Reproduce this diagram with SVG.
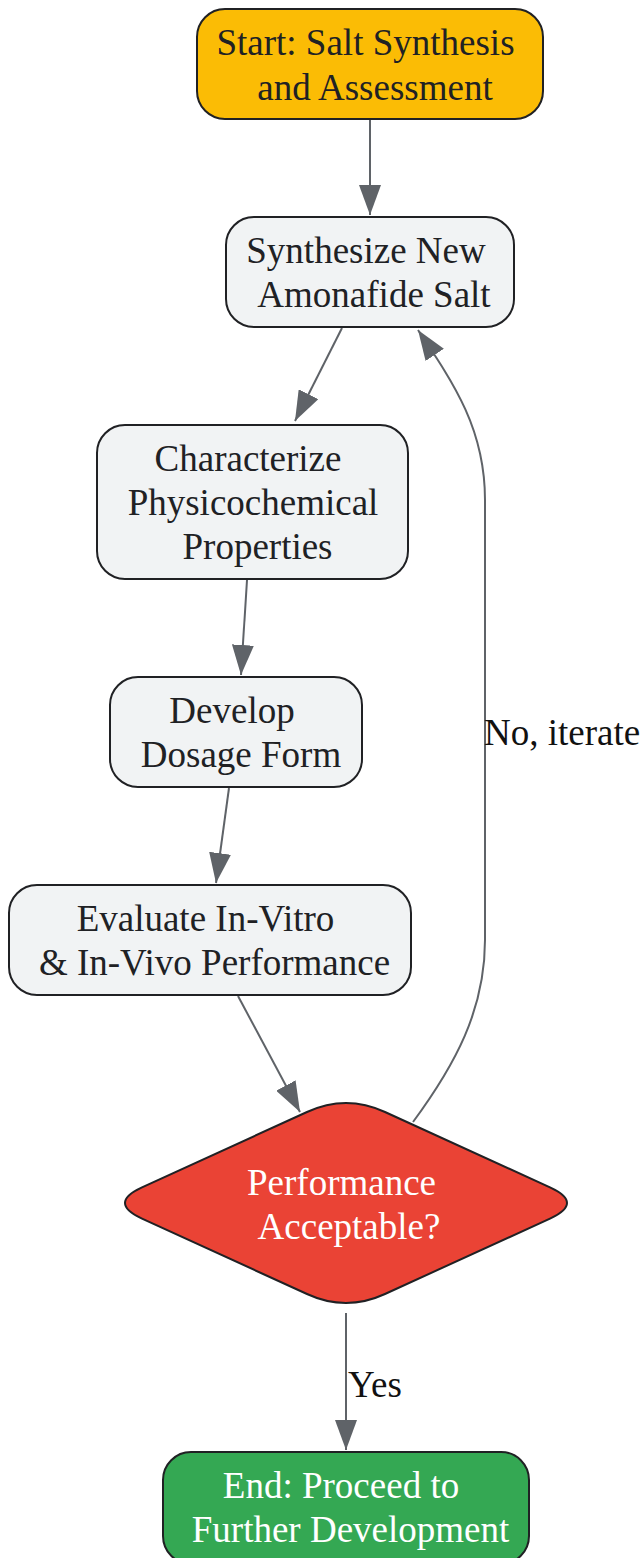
<svg xmlns="http://www.w3.org/2000/svg" width="644" height="1558" viewBox="0 0 644 1558">
<style>
text{font-family:"Liberation Serif","Times New Roman",serif;font-size:37px;text-anchor:middle}
.n{stroke:#202124;stroke-width:2}
.dark{fill:#202124}
.light{fill:#ffffff}
.lbl{fill:#111111;text-anchor:start}
.e{fill:none;stroke:#5F6368;stroke-width:2;marker-end:url(#ah)}
</style>
<defs>
<marker id="ah" markerUnits="userSpaceOnUse" markerWidth="30" markerHeight="22" refX="30" refY="11" orient="auto" viewBox="0 0 30 22">
<path d="M0,0 L30,11 L0,22 z" fill="#5F6368"/>
</marker>
</defs>
<rect width="644" height="1558" fill="#ffffff"/>
<g id="connectors">
<path class="e" d="M370,119 L370,215"/>
<path class="e" d="M342,328 L295,421"/>
<path class="e" d="M247,580 L241,675"/>
<path class="e" d="M229,788 L216,883"/>
<path class="e" d="M238,996 L300,1112"/>
<path class="e" d="M413,1122 C455,1065 485,1010 485,940 L485,500 C485,430 455,385 418,330"/>
<path class="e" d="M346,1313 L346,1450"/>
<text class="lbl" x="484" y="745">No, iterate</text>
<text class="lbl" x="348" y="1397">Yes</text>
</g>
<g id="start">
<rect class="n" x="197" y="9" width="346" height="110" rx="28" fill="#FBBC05"/>
<text class="dark" x="365.5" y="55">Start: Salt Synthesis</text>
<text class="dark" x="375" y="100">and Assessment</text>
</g>
<g id="synthesize">
<rect class="n" x="226" y="217" width="288" height="110" rx="28" fill="#F1F3F4"/>
<text class="dark" x="366" y="263">Synthesize New</text>
<text class="dark" x="374" y="307">Amonafide Salt</text>
</g>
<g id="characterize">
<rect class="n" x="97" y="425" width="311" height="154" rx="28" fill="#F1F3F4"/>
<text class="dark" x="248" y="471">Characterize</text>
<text class="dark" x="253" y="515">Physicochemical</text>
<text class="dark" x="257.5" y="559">Properties</text>
</g>
<g id="develop">
<rect class="n" x="110" y="677" width="252" height="110" rx="28" fill="#F1F3F4"/>
<text class="dark" x="232" y="723">Develop</text>
<text class="dark" x="241" y="767">Dosage Form</text>
</g>
<g id="evaluate">
<rect class="n" x="9" y="885" width="402" height="110" rx="28" fill="#F1F3F4"/>
<text class="dark" x="205.5" y="931">Evaluate In-Vitro</text>
<text class="dark" x="214.5" y="975">&amp; In-Vivo Performance</text>
</g>
<g id="decision">
<path class="n" fill="#EA4335" d="M307,1112 Q346,1094 385,1112 L550,1187.4 Q584,1203 550,1218.6 L385,1294 Q346,1312 307,1294 L142,1218.6 Q108,1203 142,1187.4 Z"/>
<text class="light" x="341.5" y="1195">Performance</text>
<text class="light" x="349" y="1239">Acceptable?</text>
</g>
<g id="end">
<rect class="n" x="163" y="1452" width="366" height="112" rx="28" fill="#34A853"/>
<text class="light" x="341" y="1498">End: Proceed to</text>
<text class="light" x="350.5" y="1542">Further Development</text>
</g>
</svg>
